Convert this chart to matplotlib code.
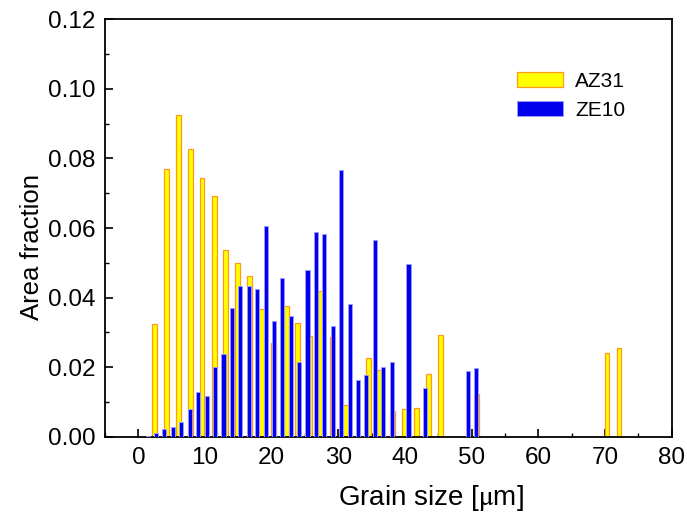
import matplotlib
matplotlib.use("Agg")
import matplotlib.pyplot as plt
from matplotlib.ticker import MultipleLocator

plt.rcParams['font.family'] = ['Liberation Sans', 'DejaVu Sans']
plt.rcParams['mathtext.fontset'] = 'stix'

# AZ31 (yellow) grain size bins and area fractions
az31_x = [2.44, 4.26, 6.01, 7.81, 9.54, 11.40, 13.09, 14.88, 16.72, 18.50,
          20.31, 22.18, 23.90, 25.73, 27.25, 29.17, 31.08, 34.52, 36.20, 38.14,
          39.89, 41.70, 43.49, 45.29, 50.66, 70.30, 72.09]
az31_y = [0.0324, 0.0769, 0.0925, 0.0828, 0.0745, 0.0692, 0.0538, 0.0500, 0.0463, 0.0367,
          0.0271, 0.0376, 0.0328, 0.0290, 0.0419, 0.0286, 0.0091, 0.0226, 0.0192, 0.0074,
          0.0080, 0.0082, 0.0180, 0.0293, 0.0123, 0.0240, 0.0256]

# ZE10 (blue) grain size bins and area fractions
ze10_x = [1.39, 2.65, 3.89, 5.19, 6.46, 7.70, 8.97, 10.24, 11.51, 12.78,
          14.02, 15.28, 16.55, 17.82, 19.09, 20.36, 21.60, 22.84, 24.14, 25.38,
          26.64, 27.88, 29.15, 30.42, 31.72, 32.93, 34.20, 35.47, 36.74, 38.01,
          40.53, 43.04, 49.40, 50.66]
ze10_y = [0.0003, 0.0011, 0.0022, 0.0029, 0.0043, 0.0080, 0.0129, 0.0119, 0.0200, 0.0238,
          0.0371, 0.0434, 0.0434, 0.0425, 0.0606, 0.0334, 0.0457, 0.0348, 0.0216, 0.0480,
          0.0589, 0.0583, 0.0320, 0.0767, 0.0381, 0.0164, 0.0178, 0.0566, 0.0200, 0.0214,
          0.0498, 0.0141, 0.0189, 0.0197]

x_ticks = [0, 10, 20, 30, 40, 50, 60, 70, 80]
y_ticks = [0.00, 0.02, 0.04, 0.06, 0.08, 0.10, 0.12]

fig = plt.figure(figsize=(6.87, 5.15), dpi=100)
ax = fig.add_axes([0.1528, 0.1515, 0.825, 0.8115])

ax.bar(az31_x, az31_y, width=0.72, color='#FFFF00', edgecolor='#FF9A1F',
       linewidth=0.9, label='AZ31', zorder=2)
ax.bar(ze10_x, ze10_y, width=0.62, color='#0000EE', edgecolor='#9a9aff',
       linewidth=0.7, label='ZE10', zorder=3)

ax.set_xlim(-5, 80)
ax.set_ylim(0, 0.12)
ax.set_xticks(x_ticks)
ax.set_yticks(y_ticks)
ax.set_yticklabels([f"{v:.2f}" for v in y_ticks])
ax.xaxis.set_minor_locator(MultipleLocator(5))
ax.yaxis.set_minor_locator(MultipleLocator(0.01))
ax.tick_params(which='major', direction='in', length=6, width=1.2, labelsize=17.5,
               top=False, right=False, pad=7)
ax.tick_params(which='minor', direction='in', length=3, width=1.0, top=False, right=False)
for s in ax.spines.values():
    s.set_linewidth(1.3)

ax.set_xlabel(r'Grain size [$\mathrm{\mu}$m]', fontsize=20, labelpad=6)
ax.xaxis.set_label_coords(0.575, -0.11)
ax.set_ylabel('Area fraction', fontsize=18.5, labelpad=8)
ax.yaxis.set_label_coords(-0.108, 0.455)

ax.legend(loc='upper left', bbox_to_anchor=(0.694, 0.919), frameon=False, fontsize=15,
          handlelength=2.2, handleheight=0.75, handletextpad=0.6, labelspacing=0.5)

fig.savefig('out.png', dpi=100)
